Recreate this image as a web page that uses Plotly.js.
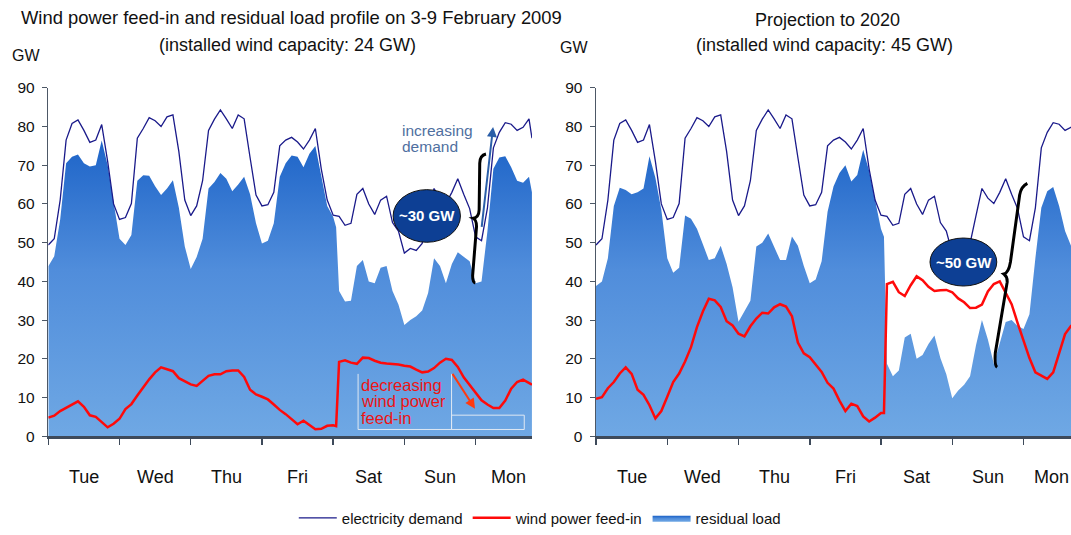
<!DOCTYPE html>
<html>
<head>
<meta charset="utf-8">
<script src="https://cdn.plot.ly/plotly-3.0.1.min.js"></script>
<style>html,body{margin:0;padding:0;background:#fff;}#chart{width:1071px;height:535px;}</style>
</head>
<body>
<div id="chart"></div>
<script>
// Hours since Tuesday 00:00 (3 Feb 2009)
var hours = [0,2,4,6,8,10,12,14,16,18,20,22,24,26,28,30,32,34,36,38,40,42,44,46,48,50,52,54,56,58,60,62,64,66,68,70,72,74,76,78,80,82,84,86,88,90,92,94,96,97,98,100,102,104,106,108,110,112,114,116,118,120,122,124,126,128,130,132,134,136,138,140,142,144,146,148,150,152,154,156,158,160,162,163];

var dayLabels = ['Tue','Wed','Thu','Fri','Sat','Sun','Mon'];
var dayCenters = [12,36,60,84,108,132,155];
var dayBounds = [0,24,48,72,96,120,144];

// Electricity demand (GW), same in both panels
var demand = [49.4,51,61,76.5,80.8,81.7,79,75.9,76.5,80.5,71,60,56,56.5,60.1,77,79.5,82.3,81.5,80,82.5,83,73.5,61,57,59.5,66,79,81.9,84.3,82,79.5,83,82,72,62.3,59.5,59.8,63,75,76.5,77.2,76,74.2,76.5,79.5,69,61,57.1,
  57,
  56.8,54.5,55,62.5,64,60,57.3,61,62,55.2,53,47.3,48.5,48,49.8,57,64,61.5,60.1,63,66.5,62.5,58.8,51.5,50.5,59,74.5,78.5,81,80.6,79,79.8,82,
  77];

// 2009: wind feed-in and residual load (GW)
var wind2009 = [4.8,5.3,6.5,7.3,8.3,9,7.6,5.4,5.0,3.7,2.3,3.2,4.5,7,8.3,10.5,12.7,14.7,16.5,17.8,17.3,16.8,15,14.2,13.4,13,14.2,15.6,16,16,16.8,17,17,15.3,12,10.8,10.2,9.5,8.2,6.8,5.7,4.4,3.1,4.0,3.0,1.8,1.9,2.7,2.8,
  2.6,
  19.2,19.6,19,18.7,20.3,20.2,19.5,19,18.8,18.7,18.5,18.2,18,17.2,16.5,16.7,17.6,19,20,19.7,17.9,15.2,13.2,11,9.3,8.2,7.3,7.3,9.2,12.3,14,14.6,13.8,
  13.3];
var residual2009 = [43.9,46.5,56,70.5,72.2,72.8,70.5,69.7,70,76.4,70,60,51,49.4,52,66,67.4,67.3,64.6,62.3,64,66.1,59,49,43.2,46.3,51,64,65.7,68,66.5,63.3,65,67,62.5,55,49.8,50.5,55,67,70.5,72.5,72.2,69.5,73,75,67,59.5,56.7,
  54,
  37.5,34.8,35,44,45.5,40,39.5,43.5,44,37.5,34,28.7,30,31,32.5,37,46,44,39.5,44.5,47.5,46.3,45.2,39.5,40,53,69.1,72,72.3,69.5,66,65.5,67,
  63];

// 2020 projection: wind feed-in and residual load (GW)
var wind2020 = [9.7,10.1,12.4,14,16.2,17.8,16.1,12,10.7,8,4.6,6.5,10.2,14,16.2,19.3,23,28.2,32.2,35.5,35.1,33.4,29.7,28.6,26.5,25.8,28.4,30.4,31.9,31.7,33.3,34.1,33.5,31,24.2,21.4,20.4,18.5,16.6,13.8,12.3,9.2,6.5,8.4,7.8,5.1,3.8,4.8,6,
  6,
  39.3,39.9,37.2,36.2,39,41.3,40.3,38.6,37.5,37.7,37.8,37.2,35.6,34.6,33.1,33.2,34,37.4,39.3,40,37.2,34.1,29.3,24.7,20.2,16.5,15.7,14.8,16.5,21.4,26.4,28.5,29.5,
  30];
var residual2020 = [38.8,40,46,59.5,64.2,63.6,62.5,63,64,72.3,66.8,58.5,46,42.2,43.5,57,56.2,53.6,49.6,45.5,46,49.2,44.5,38.5,29.6,32.3,35,49,50,52.4,48.9,45.5,45.5,51.6,49.2,44,39.5,40.5,45.2,58,64.5,68,70,65.8,67.5,74,68.5,61.4,53.5,
  51.5,
  18.7,15.5,17,25.5,26.5,20,21,23.8,26,20.2,16,9.8,11.8,13.3,15.5,23.5,30,25,18.7,24,29.5,30,28.5,27.7,31.5,46,59,63.3,64.4,59.5,53,49.2,49,
  48];

var FONT = '"Liberation Sans", Arial, Helvetica, sans-serif';
var gradient = {type:'vertical', start:0, stop:78,
  colorscale:[[0,'#6fa8e4'],[0.55,'#508ddb'],[1,'#1b62c7']]};

function panelTraces(xa, ya, wind, resid, show){
  return [
    {x:hours, y:resid, xaxis:xa, yaxis:ya, type:'scatter', mode:'lines', name:'residual load',
     fill:'tozeroy', fillgradient:gradient, line:{width:0, color:'#4f8cda'}, showlegend:show, legendrank:3, hoverinfo:'skip'},
    {x:hours, y:demand, xaxis:xa, yaxis:ya, type:'scatter', mode:'lines', name:'electricity demand',
     line:{color:'#1a1a8a', width:1.3}, showlegend:show, legendrank:1},
    {x:hours, y:wind, xaxis:xa, yaxis:ya, type:'scatter', mode:'lines', name:'wind power feed-in',
     line:{color:'#ff0a0a', width:2.5}, showlegend:show, legendrank:2}
  ];
}

var data = panelTraces('x','y',wind2009,residual2009,true)
  .concat(panelTraces('x2','y2',wind2020,residual2020,false));

function xaxisDef(domain, range, anchor){
  return {domain:domain, range:range, anchor:anchor, showgrid:false, zeroline:false,
    showline:true, linecolor:'#3e4a5a', linewidth:2.5,
    tickmode:'array', tickvals:dayBounds, showticklabels:false,
    ticks:'outside', ticklen:6, tickwidth:1.5, tickcolor:'#3e4a5a',
    fixedrange:true};
}
function yaxisDef(anchor){
  return {domain:[0.1785,0.8346], range:[0,90], anchor:anchor, showgrid:false, zeroline:false,
    showline:true, linecolor:'#4d5866', linewidth:1.5,
    tickmode:'array', tickvals:[0,10,20,30,40,50,60,70,80,90],
    ticks:'outside', ticklen:5, tickcolor:'#4d5866', ticklabelstandoff:4,
    tickfont:{family:FONT, size:15.5, color:'#111'}, fixedrange:true};
}

var annotations = [
  {xref:'paper', yref:'paper', x:0.2726, y:0.9664, text:'Wind power feed-in and residual load profile on 3-9 February 2009', showarrow:false, font:{family:FONT,size:18.4,color:'#111'}, xanchor:'center', yanchor:'middle'},
  {xref:'paper', yref:'paper', x:0.2689, y:0.9159, text:'(installed wind capacity: 24 GW)', showarrow:false, font:{family:FONT,size:18,color:'#111'}, xanchor:'center', yanchor:'middle'},
  {xref:'paper', yref:'paper', x:0.7722, y:0.9626, text:'Projection to 2020', showarrow:false, font:{family:FONT,size:18,color:'#111'}, xanchor:'center', yanchor:'middle'},
  {xref:'paper', yref:'paper', x:0.7694, y:0.9159, text:'(installed wind capacity: 45 GW)', showarrow:false, font:{family:FONT,size:18,color:'#111'}, xanchor:'center', yanchor:'middle'},
  {xref:'paper', yref:'paper', x:0.0243, y:0.8953, text:'GW', showarrow:false, font:{family:FONT,size:16,color:'#111'}, xanchor:'center', yanchor:'middle'},
  {xref:'paper', yref:'paper', x:0.536, y:0.9103, text:'GW', showarrow:false, font:{family:FONT,size:16,color:'#111'}, xanchor:'center', yanchor:'middle'},
  // left panel notes
  {xref:'x', yref:'y', x:127.5, y:56.9, text:'<b>~30 GW</b>', showarrow:false, font:{family:FONT,size:15,color:'#ffffff'}},
  {xref:'x', yref:'y', x:118.5, y:79.0, text:'increasing', showarrow:false, xanchor:'left', font:{family:FONT,size:15.5,color:'#4f6f9f'}},
  {xref:'x', yref:'y', x:118.5, y:74.9, text:'demand', showarrow:false, xanchor:'left', font:{family:FONT,size:15.5,color:'#4f6f9f'}},
  {xref:'x', yref:'y', x:149.9, y:79.9, ax:146, ay:53.7, axref:'x', ayref:'y', text:'', showarrow:true, arrowhead:2, arrowsize:1, arrowwidth:2, arrowcolor:'#2a5ea8'},
  {xref:'x', yref:'y', x:104.6, y:13.2, text:'decreasing', showarrow:false, xanchor:'left', font:{family:FONT,size:16.5,color:'#ee1414'}},
  {xref:'x', yref:'y', x:104.6, y:9.0, text:'wind power', showarrow:false, xanchor:'left', font:{family:FONT,size:16.5,color:'#ee1414'}},
  {xref:'x', yref:'y', x:104.6, y:4.7, text:'feed-in', showarrow:false, xanchor:'left', font:{family:FONT,size:16.5,color:'#ee1414'}},
  {xref:'x', yref:'y', x:143.8, y:7.1, ax:135.9, ay:16.5, axref:'x', ayref:'y', text:'', showarrow:true, arrowhead:2, arrowsize:1, arrowwidth:2, arrowcolor:'#ff3a10'},
  // right panel notes
  {xref:'x2', yref:'y2', x:123.8, y:45.0, text:'<b>~50 GW</b>', showarrow:false, font:{family:FONT,size:15,color:'#ffffff'}}
];

// day-name labels under each panel
dayLabels.forEach(function(lbl, i){
  var last = (i === dayLabels.length - 1);
  annotations.push({xref:'x', yref:'paper', x:dayCenters[i], y:0.101, text:lbl, showarrow:false,
    font:{family:FONT,size:18,color:'#111'}, yanchor:'middle'});
  annotations.push({xref:(last ? 'paper' : 'x2'), yref:'paper', x:(last ? 1 : dayCenters[i]), y:0.101, text:lbl, showarrow:false,
    font:{family:FONT,size:18,color:'#111'}, yanchor:'middle', xanchor:(last ? 'right' : 'center')});
});

var shapes = [
  {type:'circle', xref:'x', yref:'y', x0:116.2, x1:138.9, y0:50.1, y1:63.7, fillcolor:'#0d3f94', line:{color:'#111', width:1}},
  {type:'path', xref:'x', yref:'y', path:'M147.5,72.9 Q145.4,72.5 145.4,70.5 L145.2,58.5 Q145.1,56.5 143.2,56.3 Q144.4,55.8 144.3,54 L143,41.5 Q143,39.7 143.9,39.6', line:{color:'#000', width:3}},
  {type:'path', xref:'x', yref:'y', path:'M104.4,16.1 L104.4,1.74 L135.9,1.74 L135.9,16.1', line:{color:'#dfe8f3', width:1}},
  {type:'rect', xref:'x', yref:'y', x0:135.9, x1:160.4, y0:1.74, y1:5.44, line:{color:'#dfe8f3', width:1}},
  {type:'circle', xref:'x2', yref:'y2', x0:112.5, x1:135.0, y0:38.8, y1:51.2, fillcolor:'#0d3f94', line:{color:'#111', width:1}},
  {type:'path', xref:'x2', yref:'y2', path:'M145.3,65.3 Q143.2,64.5 142.7,62.3 L139.6,45 Q139,42.2 137.4,41.9 Q138.6,41.2 138.5,39.8 L134.5,21.5 Q134.2,18.3 135.1,17.8', line:{color:'#000', width:3}}
];

var layout = {
  width:1071, height:535, autosize:false,
  margin:{l:0, r:0, t:0, b:0, pad:0},
  paper_bgcolor:'#ffffff', plot_bgcolor:'#ffffff',
  font:{family:FONT, color:'#111'},
  xaxis: xaxisDef([0.0451,0.4967],[0,163],'y'),
  yaxis: yaxisDef('x'),
  xaxis2: xaxisDef([0.5565,1],[0,160],'y2'),
  yaxis2: yaxisDef('x2'),
  showlegend:true,
  legend:{orientation:'h', x:0.504, xanchor:'center', y:0.0243, yanchor:'middle',
    font:{family:FONT, size:15, color:'#111'}, bgcolor:'rgba(0,0,0,0)', traceorder:'normal', itemwidth:38},
  annotations:annotations,
  shapes:shapes
};

Plotly.newPlot('chart', data, layout, {staticPlot:true, displayModeBar:false});
</script>
</body>
</html>
